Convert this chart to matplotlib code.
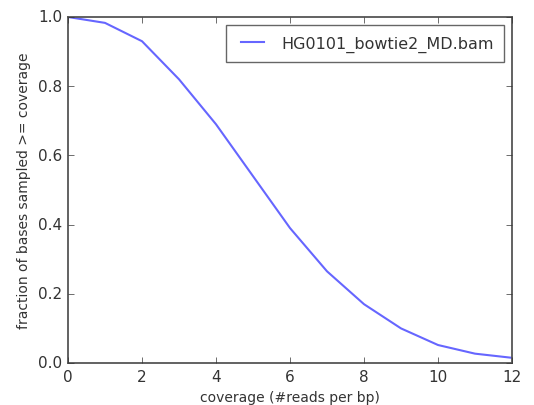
import numpy as np
import matplotlib
matplotlib.use('Agg')
import matplotlib.pyplot as plt

plt.style.use('classic')

coverage = [0, 1, 2, 3, 4, 5, 6, 7, 8, 9, 10, 11, 12]
fraction = [1.0, 0.983, 0.93, 0.82, 0.69, 0.54, 0.39, 0.265, 0.17, 0.10, 0.052, 0.027, 0.015]
label = 'HG0101_bowtie2_MD.bam'

fig = plt.figure(figsize=(5.34, 4.06), dpi=100, facecolor='white')
ax = fig.add_axes([68/534., 1 - 364/406., (512-68)/534., (364-18)/406.])
ax.plot(coverage, fraction, color='b', alpha=0.6, linewidth=1.5, label=label)
ax.set_xlim(0, 12)
ax.set_ylim(0, 1.0)
for s in ax.spines.values():
    s.set_edgecolor('#555555')
    s.set_linewidth(1.3)
ax.tick_params(axis='both', labelsize=11, colors='#333333')
ax.set_xlabel('coverage (#reads per bp)', fontsize=10, color='#333333')
ax.set_ylabel('fraction of bases sampled >= coverage', fontsize=10, color='#333333')
leg = ax.legend(loc='upper right', fontsize=11.5, borderpad=0.65)
leg.get_frame().set_edgecolor('#666666')
for t in leg.get_texts():
    t.set_color('#333333')

fig.savefig('out.png', dpi=100, facecolor='white')
